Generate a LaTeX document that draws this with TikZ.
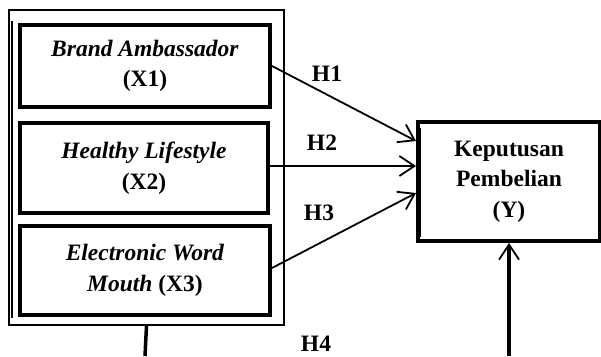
\documentclass[tikz,border=0pt]{standalone}
\usepackage{fontspec}
\setmainfont{Liberation Serif}
\usetikzlibrary{arrows.meta,calc}
\begin{document}
\begin{tikzpicture}[x=1pt,y=1pt,
  every node/.style={font=\fontsize{23.5}{30.5}\selectfont\bfseries},
  varbox/.style={draw,line width=4pt,align=center,inner sep=0pt},
  outerbox/.style={draw,line width=1.8pt,inner sep=0pt},
  hlabel/.style={inner sep=0pt},
  conn/.style={line width=1.8pt},
  thickconn/.style={line width=3.5pt},
  arr/.style={conn,-{Straight Barb[length=15pt,width=20pt,line width=1.8pt]}}]
\useasboundingbox (0,0) rectangle (601,356);
% outer frame
\node[outerbox,minimum width=275pt,minimum height=315pt] (outer) at (146.5,188.5) {};
\draw[line width=1.5pt] ([xshift=4pt,yshift=-12pt]outer.north west) -- ([xshift=4pt,yshift=8pt]outer.south west);
% independent variables
\node[varbox,minimum width=250pt,minimum height=82pt] (x1) at (145,290)
  {\textit{Brand Ambassador}\\(X1)};
\node[varbox,minimum width=248pt,minimum height=90pt] (x2) at (144,188)
  {\textit{Healthy Lifestyle}\\(X2)};
\node[varbox,minimum width=250pt,minimum height=89pt] (x3) at (145,85.5)
  {\textit{Electronic Word}\\\textit{Mouth} (X3)};
% dependent variable
\node[varbox,minimum width=182pt,minimum height=119pt] (y) at (509,174.5)
  {Keputusan\\Pembelian\\(Y)};
\draw[line width=3pt] ([xshift=3pt,yshift=-8pt]y.north west) -- ([xshift=3pt,yshift=6pt]y.south west);
% connectors
\draw[arr] (x1.east) -- ([yshift=40.5pt]y.west);
\draw[arr] ([yshift=2pt]x2.east) -- ([yshift=15.5pt]y.west);
\draw[arr] ([yshift=2.5pt]x3.east) -- ([yshift=-11.5pt]y.west);
\coordinate (b1) at (145,0);
\coordinate (b2) at (509,0);
\draw[thickconn] (outer.south) -- (b1);
\draw[thickconn,-{Straight Barb[length=15pt,width=20pt,line width=1.8pt]}] (b2) -- (y.south);
% labels
\node[hlabel] (h1) at (327,282.5) {H1};
\node[hlabel] (h2) at (322,213.5) {H2};
\node[hlabel] (h3) at (319,143.5) {H3};
\node[hlabel] (h4) at (316,12.5) {H4};
\end{tikzpicture}
\end{document}
